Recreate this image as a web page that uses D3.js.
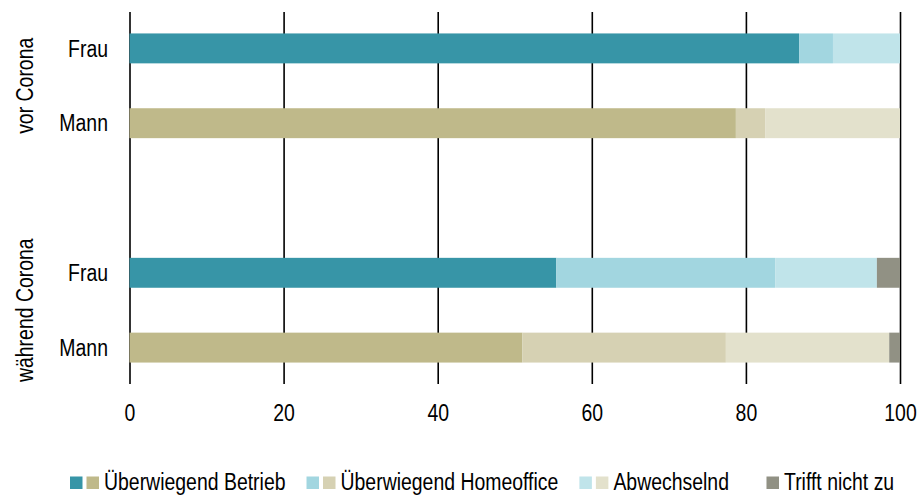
<!DOCTYPE html>
<html>
<head>
<meta charset="utf-8">
<script src="https://cdn.jsdelivr.net/npm/d3@7"></script>
<style>
  body { margin: 0; background: #fff; }
  svg text { font-family: "Liberation Sans", Arial, sans-serif; font-size: 23px; fill: #000; }
  .axis .domain { display: none; }
  .axis line { stroke: #000; stroke-width: 1.6px; }
</style>
</head>
<body>
<div class="chart"></div>
<script>
// data (percent)
var groups = ["vor Corona", "während Corona"];
var genders = ["Frau", "Mann"];
var categories = ["Überwiegend Betrieb", "Überwiegend Homeoffice", "Abwechselnd", "Trifft nicht zu"];
var vorFrau = [86.9, 4.4, 8.7, 0];
var vorMann = [78.7, 3.8, 17.5, 0];
var waehrendFrau = [55.4, 28.4, 13.2, 3.0];
var waehrendMann = [51.0, 26.4, 21.2, 1.4];
var xTicks = [0, 20, 40, 60, 80, 100];

var frauColors = ["#3795a7", "#a2d6e0", "#c0e4ea", "#919184"];
var mannColors = ["#bfb98a", "#d6d1b3", "#e3e1cc", "#919184"];

var width = 924, height = 495;

var rows = [
    { key: "vor-Frau", group: groups[0], gender: genders[0], values: vorFrau },
    { key: "vor-Mann", group: groups[0], gender: genders[1], values: vorMann },
    { key: "gap", values: null },
    { key: "w-Frau", group: groups[1], gender: genders[0], values: waehrendFrau },
    { key: "w-Mann", group: groups[1], gender: genders[1], values: waehrendMann }
];

// the reference uses a narrow face; squeeze the text to match
function narrow(sel) {
    sel.each(function () {
        var w = this.getComputedTextLength();
        d3.select(this)
            .attr("textLength", w * 0.845)
            .attr("lengthAdjust", "spacingAndGlyphs");
    });
}

var svg = d3.select(".chart").append("svg")
    .attr("width", width)
    .attr("height", height);

var x = d3.scaleLinear()
    .domain([0, 100])
    .range([129.5, 900]);

var y = d3.scaleBand()
    .domain(rows.map(function (d) { return d.key; }))
    .range([11, 385])
    .paddingInner(0.6)
    .paddingOuter(0.3);

var gridTop = 12, gridBottom = 384;

// vertical grid lines doubling as x ticks
var xAxis = svg.append("g")
    .attr("class", "axis")
    .attr("transform", "translate(0," + gridTop + ")")
    .call(d3.axisBottom(x)
        .tickValues(xTicks)
        .tickSize(gridBottom - gridTop)
        .tickPadding(21)
        .tickFormat(d3.format("d")));
xAxis.selectAll("text").call(narrow);

// stacked bars
var bars = rows.filter(function (d) { return d.values; });

var row = svg.selectAll(".row")
    .data(bars)
    .enter().append("g")
    .attr("class", "row");

row.selectAll("rect")
    .data(function (d) {
        var cum = 0;
        var cols = d.gender === "Frau" ? frauColors : mannColors;
        return d.values.map(function (v, i) {
            var seg = { key: d.key, x0: cum, x1: cum + v, color: cols[i] };
            cum += v;
            return seg;
        });
    })
    .enter().append("rect")
    .attr("x", function (d) { return x(d.x0); })
    .attr("width", function (d) { return x(d.x1) - x(d.x0); })
    .attr("y", function (d) { return y(d.key); })
    .attr("height", y.bandwidth())
    .attr("fill", function (d) { return d.color; });

// gender labels
svg.selectAll(".gender")
    .data(bars)
    .enter().append("text")
    .attr("class", "gender")
    .attr("x", 108)
    .attr("y", function (d) { return y(d.key) + y.bandwidth() / 2; })
    .attr("dy", "0.36em")
    .style("text-anchor", "end")
    .text(function (d) { return d.gender; })
    .call(narrow);

// group labels, rotated
groups.forEach(function (g) {
    var members = bars.filter(function (d) { return d.group === g; });
    var cy = d3.mean(members, function (d) { return y(d.key) + y.bandwidth() / 2; });
    svg.append("text")
        .attr("transform", "translate(33," + cy + ") rotate(-90)")
        .style("text-anchor", "middle")
        .text(g)
        .call(narrow);
});

// legend
var legend = svg.append("g").attr("class", "legend");
var lx = 70, sw = 12.5, slot = 16.5, ly = 476.5;
categories.forEach(function (c, i) {
    if (i < 3) {
        legend.append("rect")
            .attr("x", lx).attr("y", ly).attr("width", sw).attr("height", sw)
            .attr("fill", frauColors[i]);
    }
    legend.append("rect")
        .attr("x", lx + slot).attr("y", ly).attr("width", sw).attr("height", sw)
        .attr("fill", mannColors[i]);
    var t = legend.append("text")
        .attr("x", lx + 34)
        .attr("y", 489.5)
        .text(c)
        .call(narrow);
    lx = lx + 34 + (+t.attr("textLength")) + 21;
});
</script>
</body>
</html>
